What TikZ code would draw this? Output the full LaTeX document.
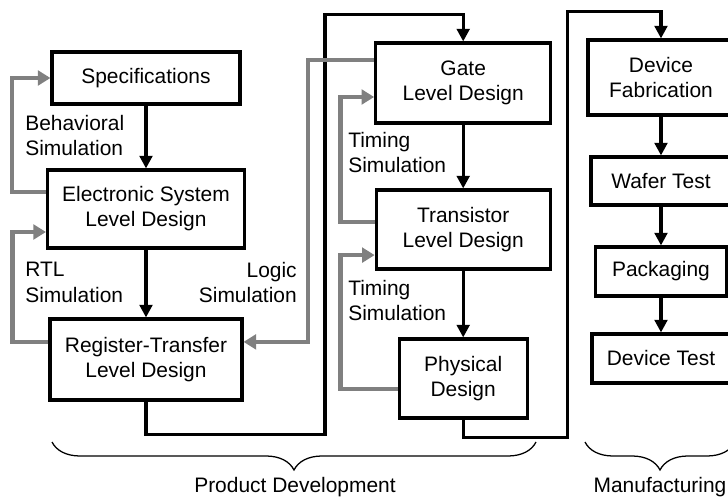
\documentclass[tikz,border=0pt]{standalone}
\usepackage[svgnames]{xcolor}
\usepackage{fontspec}
\setmainfont{Liberation Sans}
\usetikzlibrary{arrows.meta,decorations.pathreplacing}
\tikzset{
    box/.style={ draw, line width=2.2pt, align=center, inner sep=0pt },
    flow/.style={ line width=2.3pt, -{Triangle[length=9pt,width=9pt]} },
    link/.style={ line width=2.3pt },
    sim/.style={ line width=3.2pt, Gray, -{Triangle[length=9pt,width=10.5pt]} },
    lbl/.style={ inner sep=0pt },
    brc/.style={ decorate, decoration={brace,amplitude=0.7cm}, line width=0.9pt }
}

\begin{document}
\begin{tikzpicture}[font=\fontsize{14.9}{17.8}\selectfont]
        %\draw[step=1, very thin, gray, dashed] (0,0) grid (18.2,12.4);
        \useasboundingbox (0,0) rectangle (18.2,12.4);

        \node[box, minimum width=4.7cm,   minimum height=1.3cm]   (spec)  at (3.65,10.45)    {Specifications};
        \node[box, minimum width=4.925cm, minimum height=1.95cm]  (esl)   at (3.65,7.175)    {Electronic System\\Level Design};
        \node[box, minimum width=4.8cm,   minimum height=2.025cm] (rtl)   at (3.65,3.4125)   {Register-Transfer\\Level Design};
        \node[box, minimum width=4.375cm, minimum height=2cm]     (gate)  at (11.58,10.325)  {Gate\\Level Design};
        \node[box, minimum width=4.35cm,  minimum height=1.975cm] (trans) at (11.58,6.6625)  {Transistor\\Level Design};
        \node[box, minimum width=3.2cm,   minimum height=1.975cm] (phys)  at (11.58,2.9375)  {Physical\\Design};
        \node[box, minimum width=3.65cm,  minimum height=1.875cm] (fab)   at (16.525,10.4625) {Device\\Fabrication};
        \node[box, minimum width=3.5cm,   minimum height=1.2cm]   (wafer) at (16.525,7.875)  {Wafer Test};
        \node[box, minimum width=3.275cm, minimum height=1.225cm] (pack)  at (16.525,5.6125) {Packaging};
        \node[box, minimum width=3.45cm,  minimum height=1.225cm] (dtest) at (16.525,3.4375) {Device Test};

        \node[lbl, anchor=west, align=left]  (behsim)   at (0.625,9.0)  {Behavioral\\Simulation};
        \node[lbl, anchor=west, align=left]  (rtlsim)   at (0.625,5.34) {RTL\\Simulation};
        \node[lbl, anchor=east, align=right] (logicsim) at (7.425,5.34) {Logic\\Simulation};
        \node[lbl, anchor=west, align=left]  (timsimA)  at (8.7,8.59)   {Timing\\Simulation};
        \node[lbl, anchor=west, align=left]  (timsimB)  at (8.7,4.875)  {Timing\\Simulation};

        \draw[flow] (spec) -- (esl);
        \draw[flow] (esl) -- (rtl);
        \draw[flow] (gate) -- (trans);
        \draw[flow] (trans) -- (phys);
        \draw[flow] (fab) -- (wafer);
        \draw[flow] (wafer) -- (pack);
        \draw[flow] (pack) -- (dtest);

        \draw[flow] (rtl.south) -- ++(0,-0.825) -- ++(4.475,0) -- ++(0,10.5) -| (gate.north);
        \draw[flow] (phys.south) -- ++(0,-0.45) -- ++(2.6,0) -- ++(0,10.65) -| (fab.north);

        \draw[sim] ([yshift=0.425cm]esl.west) -- ++(-0.85,0) |- (spec.west);
        \draw[sim] ([yshift=0.44cm]rtl.west) -- ++(-0.9,0) |- ([yshift=-0.575cm]esl.west);
        \draw[sim] ([yshift=0.575cm]gate.west) -- ++(-1.65,0) |- ([yshift=0.44cm]rtl.east);
        \draw[sim] ([yshift=0.19cm]trans.west) -- ++(-0.85,0) |- ([yshift=-0.35cm]gate.west);
        \draw[sim] ([yshift=-0.26cm]phys.west) -- ++(-1.425,0) |- ([yshift=-0.64cm]trans.west);

        \draw[brc] (13.4,1.35) -- (1.3,1.35);
        \draw[brc] (18.375,1.35) -- (14.625,1.35);
        \node[anchor=base] (proddev) at (7.375,0.1) {Product Development};
        \node[anchor=base] (manuf)   at (16.5,0.1)  {Manufacturing};

    \end{tikzpicture}
\end{document}
